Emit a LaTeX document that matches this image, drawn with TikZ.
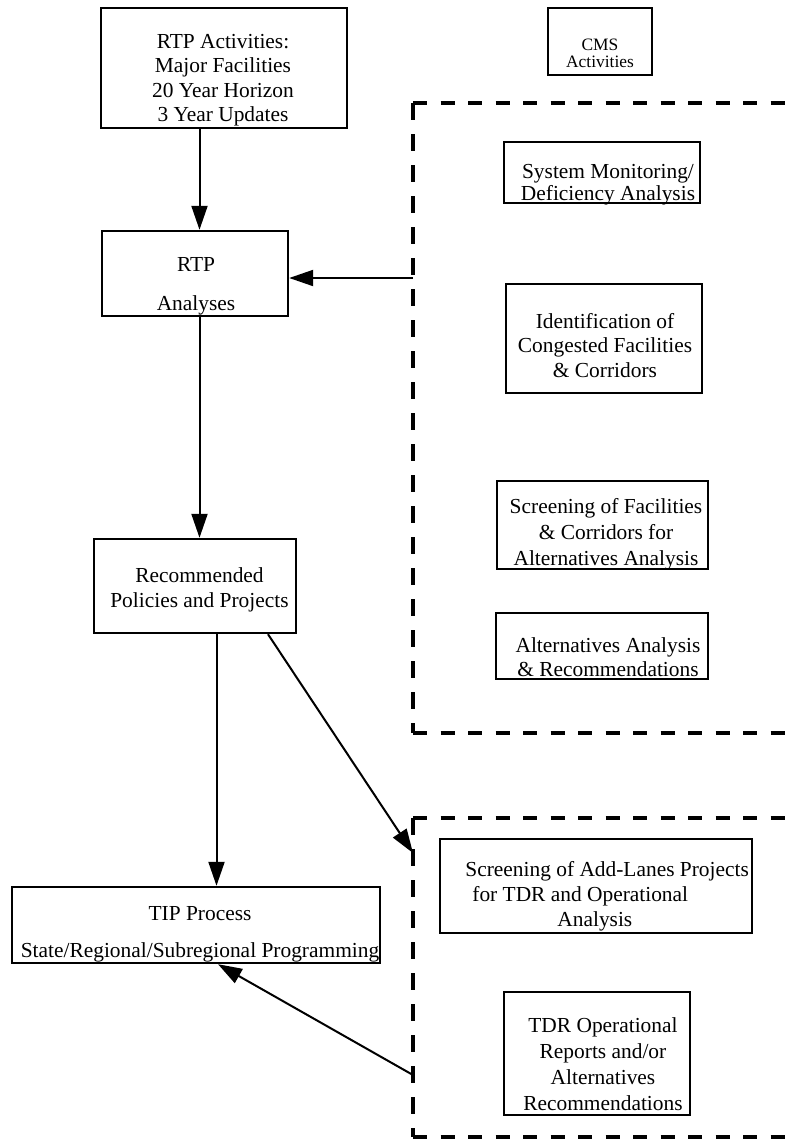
\documentclass[tikz,border=0pt]{standalone}
\usepackage{fontspec}
\setmainfont{Liberation Serif}
\usetikzlibrary{arrows.meta}
\newcommand{\lns}[2][c]{\begin{tabular}[t]{@{}#1@{}}#2\end{tabular}}
\newcommand{\tsz}[2][10.7pt]{\fontsize{#1}{#2}\selectfont}
\begin{document}
\begin{tikzpicture}[x=0.5pt,y=-0.5pt,
  box/.style={draw, line width=1.2pt, inner sep=0pt},
  txt/.style={inner sep=0pt, anchor=base, font={\tsz{12pt}}},
  arr/.style={line width=1pt, -{Triangle[length=12pt,width=8pt]}},
  dashH/.style={line width=2pt, dash pattern=on 7pt off 6.75pt},
  dashV/.style={line width=1.75pt, dash pattern=on 8.5pt off 7pt}]
\useasboundingbox (0,0) rectangle (789,1142);

% dashed frames (open to the right)
\coordinate (f1a) at (789,103);
\coordinate (f1b) at (413,103);
\coordinate (f1c) at (413,733);
\coordinate (f1d) at (789,733);
\draw[dashH] (f1b) -- (f1a);
\draw[dashV] (f1b) -- (f1c);
\draw[dashH] (f1c) -- (f1d);
\coordinate (f2a) at (789,818);
\coordinate (f2b) at (413,818);
\coordinate (f2c) at (413,1137);
\coordinate (f2d) at (789,1137);
\draw[dashH] (f2b) -- (f2a);
\draw[dashV] (f2b) -- (f2c);
\draw[dashH] (f2c) -- (f2d);

% texts
\node[txt, font={\tsz{12.3pt}}] (t1) at (223,48) {\lns{RTP Activities:\\Major Facilities\\20 Year Horizon\\3 Year Updates}};
\node[txt, font={\tsz[8.7pt]{8.5pt}}] (t2) at (600,50) {\lns{CMS\\Activities}};
\node[txt, font={\tsz{11pt}}] (t3) at (608,178) {\lns{System Monitoring/\\Deficiency Analysis}};
\node[txt, font={\tsz{19.5pt}}] (t4) at (196,271) {\lns{RTP\\Analyses}};
\node[txt, font={\tsz{12.25pt}}] (t5) at (605,328) {\lns{Identification of\\Congested Facilities\\\& Corridors}};
\node[txt, font={\tsz{13pt}}] (t6) at (606,513) {\lns{Screening of Facilities\\\& Corridors for\\Alternatives Analysis}};
\node[txt, font={\tsz{12.75pt}}] (t7) at (199.5,582) {\lns{Recommended\\Policies and Projects}};
\node[txt, font={\tsz{12pt}}] (t8) at (608,652) {\lns{Alternatives Analysis\\\& Recommendations}};
\node[txt, anchor=base west, font={\tsz{12.5pt}}] (t9) at (465,876) {\lns[l]{Screening of Add-Lanes Projects\\\hspace*{3.5pt}for TDR and Operational\\\hspace*{46pt}Analysis}};
\node[txt, font={\tsz{18.5pt}}] (t10) at (200,920) {\lns{TIP Process\\State/Regional/Subregional Programming}};
\node[txt, font={\tsz{13pt}}] (t11) at (603,1032) {\lns{TDR Operational\\Reports and/or\\Alternatives\\Recommendations}};

% boxes
\node[box, minimum width=123pt, minimum height=60pt] (b1) at (224,68) {};
\node[box, minimum width=52pt, minimum height=33.5pt] (b2) at (600,41.5) {};
\node[box, minimum width=98pt, minimum height=30.5pt] (b3) at (602,172.5) {};
\node[box, minimum width=93pt, minimum height=42.5pt] (b4) at (195,273.5) {};
\node[box, minimum width=98pt, minimum height=54.5pt] (b5) at (604,338.5) {};
\node[box, minimum width=105.5pt, minimum height=44pt] (b6) at (602.5,525) {};
\node[box, minimum width=101pt, minimum height=47pt] (b7) at (195,586) {};
\node[box, minimum width=106pt, minimum height=33pt] (b8) at (602,646) {};
\node[box, minimum width=156pt, minimum height=47pt] (b9) at (596,886) {};
\node[box, minimum width=184pt, minimum height=38pt] (b10) at (196,925) {};
\node[box, minimum width=93pt, minimum height=61.5pt] (b11) at (597,1053.5) {};

% connectors
\coordinate (c1) at (199.5,0);
\coordinate (c2) at (216.5,0);
\coordinate (c3) at (268,0);
\coordinate (c4) at (218,0);
\coordinate (d1) at (413,278);
\coordinate (d2) at (413,853);
\coordinate (d3) at (413,1075);
\draw[arr] (b1.south -| c1) -- (b4.north -| c1);
\draw[arr] (d1) -- (b4.east |- d1);
\draw[arr] (b4.south -| c1) -- (b7.north -| c1);
\draw[arr] (b7.south -| c2) -- (b10.north -| c2);
\draw[arr] (b7.south -| c3) -- (d2);
\draw[arr] (d3) -- (b10.south -| c4);
\end{tikzpicture}
\end{document}
